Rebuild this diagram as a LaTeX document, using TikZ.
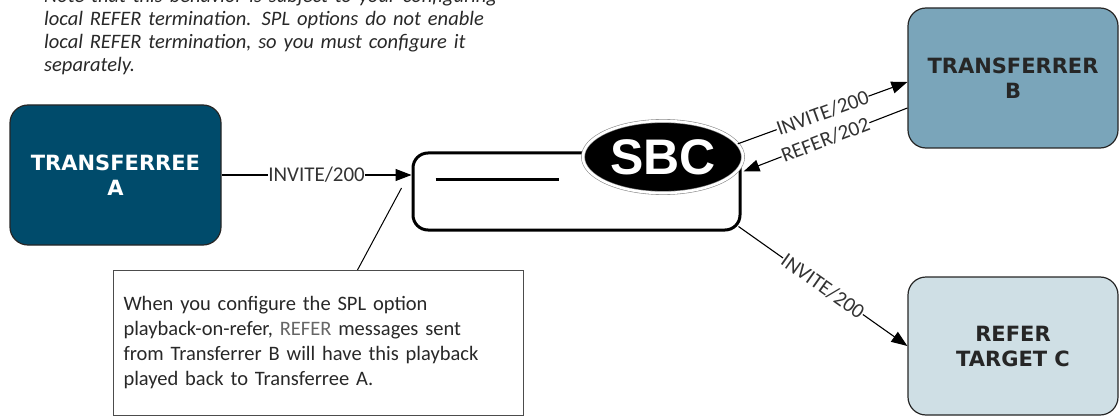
\documentclass[tikz,border=0pt]{standalone}
\usepackage{fontspec}
\setmainfont{Carlito}
\newfontfamily\entfam{DejaVu Sans}
\newfontfamily\sbcfam{Liberation Sans}
\usetikzlibrary{arrows.meta,shapes.geometric,calc}
\definecolor{colA}{RGB}{0,75,107}
\definecolor{colB}{RGB}{122,165,186}
\definecolor{colC}{RGB}{207,223,229}
\definecolor{txtgray}{RGB}{40,40,40}
\begin{document}
\begin{tikzpicture}[x=1pt,y=-1pt,
  ent/.style={rounded corners=18pt, draw=black!85, line width=1.2pt,
    minimum width=210pt, minimum height=140pt, align=center, inner sep=0pt,
    font=\entfam\bfseries\fontsize{21}{25}\selectfont},
  msg/.style={line width=1.1pt, -{Triangle[length=16pt,width=12pt]}},
  lbl/.style={font=\fontsize{21}{22}\selectfont, fill=white, inner sep=0.5pt, text=black!80},
  notebox/.style={draw=black!70, line width=1pt, align=left, inner xsep=10pt,
    font=\fontsize{20.5}{25}\selectfont, text=txtgray}
]
\clip (0,0) rectangle (1119,417);
\useasboundingbox (0,0) rectangle (1119,417);

% header note
\node[anchor=base west, text width=560pt, align=left, inner sep=0pt,
  font=\itshape\fontsize{20.5}{23}\selectfont, text=txtgray] (hdr) at (44,3)
  {Note that this behavior is subject to your configuring\\
   local REFER termination. SPL options do not enable\\
   local REFER termination, so you must configure it\\
   separately.};

% endpoints
\node[ent, fill=colA, text=white, minimum width=211pt] (A) at (115.5,175) {TRANSFERREE\\A};
\node[ent, fill=colB, text=black!85] (B) at (1013,78) {TRANSFERRER\\B};
\node[ent, fill=colC, text=black!85, minimum height=138pt] (C) at (1013,346) {REFER\\TARGET C};

% SBC
\node[draw, line width=3pt, rounded corners=15pt, minimum width=327pt,
  minimum height=77pt, inner sep=0pt] (sbc) at (576.5,191.5) {};
\draw[line width=3pt] ($(sbc.north west)+(24,28)$) -- ++(123,0);
\node[ellipse, fill=black, draw=black!45, line width=0.6pt, double=white,
  double distance=2.6pt, minimum width=160pt,
  minimum height=72pt, inner sep=0pt, text=white,
  font=\sbcfam\bfseries\fontsize{50}{50}\selectfont] (sbcell) at (663,157) {SBC};

% messages
\draw[msg] (A.east) -- node[lbl]{INVITE/200} (A.east -| sbc.west);
\draw[msg] (sbcell.10) -- node[lbl, sloped]{INVITE/200} ([yshift=-4pt]B.west);
\draw[msg] ([yshift=-30pt]B.west) -- node[lbl, sloped]{REFER/202} ([xshift=2pt,yshift=20pt]sbc.east);
\draw[msg] ([xshift=-3pt,yshift=5pt]sbc.south east) -- node[lbl, sloped]{INVITE/200} (C.west);

% callout
\node[notebox, anchor=north west, minimum width=410pt, minimum height=145pt, text width=390pt] (note) at (113,270)
  {When you configure the SPL option\\
   playback-on-refer, {\color{black!60}REFER} messages sent\\
   from Transferrer B will have this playback\\
   played back to Transferree A.};
\draw[line width=1pt] ([xshift=39pt]note.north) -- ([xshift=-10pt,yshift=3.5pt]sbc.west);
\end{tikzpicture}
\end{document}
